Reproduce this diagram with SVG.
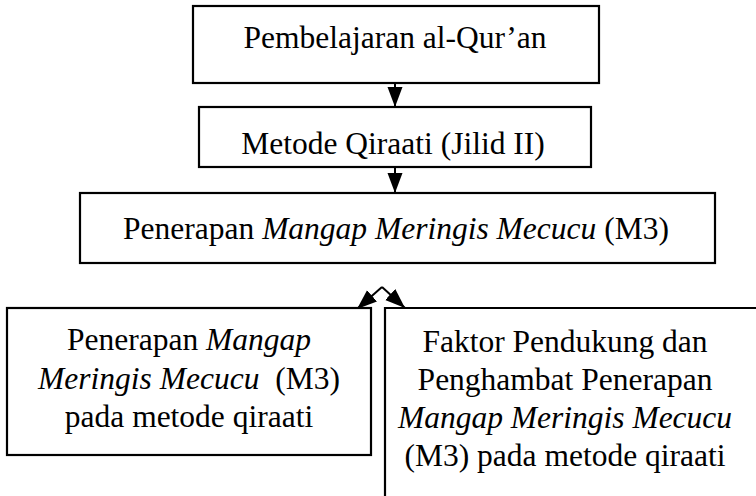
<svg xmlns="http://www.w3.org/2000/svg" width="756" height="496" viewBox="0 0 756 496">
<style>
.box{fill:#fff;stroke:#000;stroke-width:2.2}
.t{font-family:'Liberation Serif','DejaVu Serif',serif;font-size:31.5px;fill:#000;text-anchor:middle}
.i{font-style:italic}
.c{stroke:#000;stroke-width:2;fill:none}
</style>
<defs>
<marker id="ah" markerUnits="userSpaceOnUse" markerWidth="22" markerHeight="16" refX="20" refY="7.5" orient="auto">
<path d="M0,0 L20,7.5 L0,15 Z" fill="#000"/>
</marker>
</defs>
<rect width="756" height="496" fill="#fff"/>
<g id="connectors">
<line class="c" x1="395" y1="83" x2="395" y2="107" marker-end="url(#ah)"/>
<line class="c" x1="395" y1="167" x2="395" y2="193" marker-end="url(#ah)"/>
<line class="c" x1="382" y1="287" x2="357" y2="309" marker-end="url(#ah)"/>
<line class="c" x1="382" y1="287" x2="405" y2="308" marker-end="url(#ah)"/>
</g>
<g id="node1">
<rect class="box" x="193" y="6" width="406" height="77"/>
<text class="t" x="395" y="48">Pembelajaran al-Qur’an</text>
</g>
<g id="node2">
<rect class="box" x="199" y="107" width="392" height="60"/>
<text class="t" x="393" y="154">Metode Qiraati (Jilid II)</text>
</g>
<g id="node3">
<rect class="box" x="80" y="193" width="635" height="70"/>
<text class="t" x="396" y="239">Penerapan <tspan class="i">Mangap Meringis Mecucu</tspan> (M3)</text>
</g>
<g id="node4">
<rect class="box" x="7" y="308" width="364" height="147"/>
<text class="t" x="189" y="350">Penerapan <tspan class="i">Mangap</tspan></text>
<text class="t" x="189" y="389" xml:space="preserve"><tspan class="i">Meringis Mecucu</tspan>  (M3)</text>
<text class="t" x="189" y="427">pada metode qiraati</text>
</g>
<g id="node5">
<path class="box" d="M757,308 H385 V497"/>
<text class="t" x="565" y="352">Faktor Pendukung dan</text>
<text class="t" x="565" y="390">Penghambat Penerapan</text>
<text class="t" x="565" y="428"><tspan class="i">Mangap Meringis Mecucu</tspan></text>
<text class="t" x="565" y="466">(M3) pada metode qiraati</text>
</g>
</svg>
